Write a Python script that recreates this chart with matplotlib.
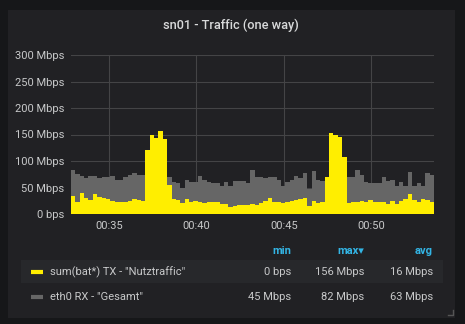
import matplotlib
matplotlib.use("Agg")
import matplotlib.pyplot as plt
import matplotlib.dates as mdates
import numpy as np
from datetime import datetime, timedelta

# data (Mbps), one value per 15 s
start = datetime(2020, 1, 1, 0, 32, 50)
step_s = 15
tx_nutz = [34, 23, 39, 31, 26, 37, 33, 31, 28, 25, 23, 22, 23, 25, 28, 26, 25,
           120, 149, 143, 157, 141, 55, 28, 26, 20, 28, 22, 25, 23, 20, 22, 22,
           23, 18, 18, 14, 16, 17, 17, 17, 19, 17, 20, 25, 30, 23, 23, 20, 22,
           25, 26, 28, 30, 15, 25, 21, 23, 70, 152, 149, 146, 107, 20, 23, 22,
           25, 23, 26, 23, 23, 22, 19, 25, 18, 25, 28, 37, 26, 22, 28, 26, 23]
rx_gesamt = [83, 75, 72, 67, 72, 72, 67, 69, 69, 72, 64, 64, 70, 74, 78, 74, 74,
             66, 62, 60, 63, 65, 70, 61, 58, 50, 64, 61, 61, 72, 64, 61, 58,
             58, 52, 61, 52, 62, 62, 62, 59, 83, 69, 69, 67, 69, 69, 64, 53, 61,
             65, 72, 67, 77, 48, 81, 64, 62, 70, 66, 64, 62, 60, 70, 70, 83,
             74, 61, 59, 58, 58, 69, 62, 65, 53, 61, 53, 79, 52, 59, 52, 77, 74]

y_ticks = [0, 50, 100, 150, 200, 250, 300]
y_labels = ["0 bps", "50 Mbps", "100 Mbps", "150 Mbps", "200 Mbps", "250 Mbps", "300 Mbps"]
x_tick_times = ["00:35", "00:40", "00:45", "00:50"]

legend_names = ['sum(bat*) TX - "Nutztraffic"', 'eth0 RX - "Gesamt"']
legend_min = ["0 bps", "45 Mbps"]
legend_max = ["156 Mbps", "82 Mbps"]
legend_avg = ["16 Mbps", "63 Mbps"]

YELLOW = "#FFEE00"
GRAY = "#666666"
TXT = "#c8c9ca"
BLUE = "#33b5e5"

plt.rcParams['font.family'] = ['Roboto', 'DejaVu Sans']

W, H = 465, 324
fig = plt.figure(figsize=(W / 100, H / 100), dpi=100)
fig.patch.set_facecolor("#161719")

# panel background
fig.patches.append(plt.Rectangle((8 / W, 1 - 318 / H), 447 / W, 308 / H,
                                 transform=fig.transFigure, facecolor="#212124",
                                 edgecolor="none", zorder=-2))
# highlighted first legend row
fig.patches.append(plt.Rectangle((21 / W, 1 - 283 / H), 422 / W, 23 / H,
                                 transform=fig.transFigure, facecolor="#27282b",
                                 edgecolor="none", zorder=-1))

fig.text(231 / W, 1 - 25 / H, "sn01 - Traffic (one way)", color="#d8d9da",
         fontsize=9.2, fontweight="medium", ha="center", va="center")

ax = fig.add_axes([71 / W, 1 - 214 / H, 363 / W, 159 / H])
ax.set_zorder(2)
ax.set_facecolor("none")

n = len(tx_nutz)
times = [start + timedelta(seconds=step_s * i) for i in range(n + 1)]
tnum = mdates.date2num(times)
rx = np.append(rx_gesamt, rx_gesamt[-1])
tx = np.append(tx_nutz, tx_nutz[-1])
ax.fill_between(tnum, 0, rx, step="post", color=GRAY, linewidth=0, zorder=2)
ax.fill_between(tnum, 0, tx, step="post", color=YELLOW, linewidth=0, zorder=3)

ax.set_xlim(tnum[0], tnum[-1])
ax.set_ylim(0, 300)
ax.set_yticks(y_ticks)
ax.set_yticklabels(y_labels)
xt = [mdates.date2num(datetime(2020, 1, 1, 0, int(s[3:]))) for s in x_tick_times]
ax.set_xticks(xt)
ax.set_xticklabels(x_tick_times)
ax.grid(True, color="#444446", linewidth=0.8, zorder=1)
ax.set_axisbelow(True)
for s in ax.spines.values():
    s.set_visible(False)
ax.tick_params(axis="both", length=0, colors=TXT, labelsize=8)
ax.tick_params(axis="y", pad=5)
ax.tick_params(axis="x", pad=5)

# legend table
hy = 1 - 251 / H
fig.text(291 / W, hy, "min", color=BLUE, fontsize=8, fontweight="bold", ha="right", va="center")
fig.text(364 / W, hy, "max\u25BE", color=BLUE, fontsize=8, fontweight="bold", ha="right", va="center")
fig.text(433 / W, hy, "avg", color=BLUE, fontsize=8, fontweight="bold", ha="right", va="center")

rows_y = [272, 297]
colors = [YELLOW, GRAY]
for i in range(2):
    ry = 1 - rows_y[i] / H
    fig.lines.append(plt.Line2D([31 / W, 43 / W], [ry, ry], transform=fig.transFigure,
                                color=colors[i], linewidth=3, solid_capstyle="butt"))
    fig.text(50 / W, ry, legend_names[i], color=TXT, fontsize=8, ha="left", va="center")
    fig.text(291 / W, ry, legend_min[i], color=TXT, fontsize=8, ha="right", va="center")
    fig.text(364 / W, ry, legend_max[i], color=TXT, fontsize=8, ha="right", va="center")
    fig.text(433 / W, ry, legend_avg[i], color=TXT, fontsize=8, ha="right", va="center")

# resize handle
fig.lines.append(plt.Line2D([448 / W, 453 / W, 453 / W], [1 - 315 / H, 1 - 315 / H, 1 - 310 / H],
                            transform=fig.transFigure, color="#555555", linewidth=1))

fig.savefig("out.png", dpi=100, facecolor=fig.get_facecolor())
